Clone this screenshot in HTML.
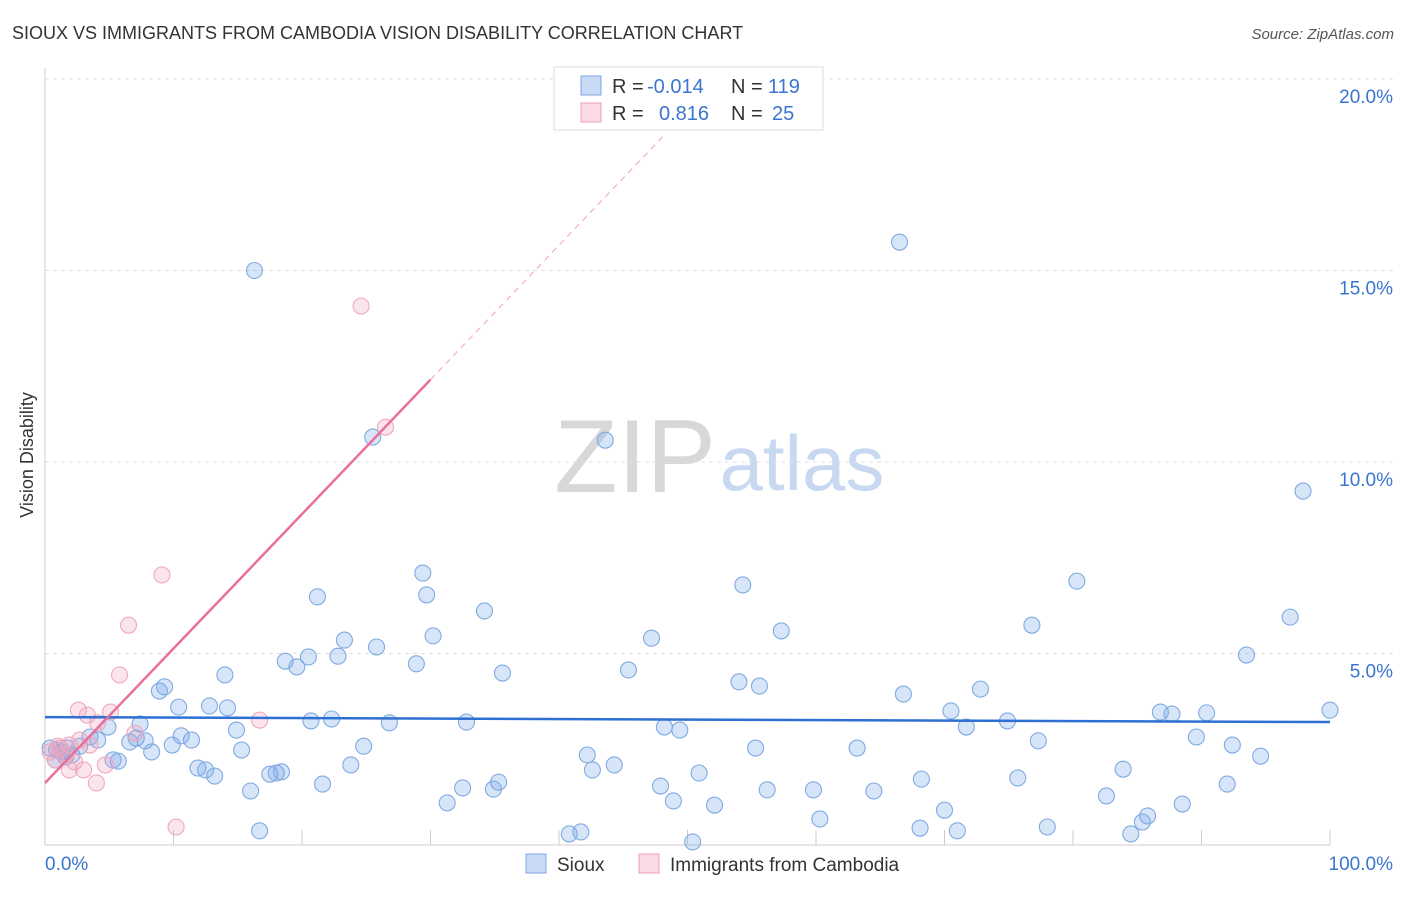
<!DOCTYPE html>
<html><head><meta charset="utf-8"><style>
body{margin:0;background:#fff;font-family:"Liberation Sans",sans-serif;}
svg text{font-family:"Liberation Sans",sans-serif;}
</style></head><body>
<svg id="chart" width="1406" height="892" xmlns="http://www.w3.org/2000/svg">
<text x="12" y="39" font-size="18" fill="#333">SIOUX VS IMMIGRANTS FROM CAMBODIA VISION DISABILITY CORRELATION CHART</text>
<text x="1394" y="39" font-size="15" fill="#555" text-anchor="end" font-style="italic">Source: ZipAtlas.com</text>
<text transform="translate(33,455) rotate(-90)" font-size="18" fill="#333" text-anchor="middle">Vision Disability</text>
<g>
<text x="635" y="492" font-size="104" font-family="Liberation Serif" fill="#d8d8d8" text-anchor="middle">ZIP</text>
<text x="802" y="490" font-size="78" fill="#c8d8f0" text-anchor="middle">atlas</text>
</g>
<g id="grid"></g><g id="marks"></g>
<g>
<rect x="554" y="67" width="269" height="63" fill="#fff" stroke="#ddd"/>
<rect x="581" y="76" width="20" height="19" fill="rgba(100,150,230,0.35)" stroke="#7aa6e0"/>
<rect x="581" y="103" width="20" height="19" fill="rgba(240,150,180,0.35)" stroke="#f0a0b8"/>
<text x="612" y="93" font-size="20" fill="#333">R =</text>
<text x="647" y="93" font-size="20" fill="#3a75d0">-0.014</text>
<text x="731" y="93" font-size="20" fill="#333">N =</text>
<text x="768" y="93" font-size="20" fill="#3a75d0">119</text>
<text x="612" y="120" font-size="20" fill="#333">R =</text>
<text x="659" y="120" font-size="20" fill="#3a75d0">0.816</text>
<text x="731" y="120" font-size="20" fill="#333">N =</text>
<text x="772" y="120" font-size="20" fill="#3a75d0">25</text>
</g>
<g>
<rect x="526" y="854" width="20" height="19" fill="rgba(100,150,230,0.35)" stroke="#7aa6e0"/>
<text x="557" y="871" font-size="19" fill="#333">Sioux</text>
<rect x="639" y="854" width="20" height="19" fill="rgba(240,150,180,0.35)" stroke="#f0a0b8"/>
<text x="670" y="871" font-size="19" fill="#333">Immigrants from Cambodia</text>
</g>
</svg>
<script>
const yTicks=[5,10,15,20];
const yTickLabels=["5.0%","10.0%","15.0%","20.0%"];
const xTicks=[0,10,20,30,40,50,60,70,80,90,100];
const xEndLabels=["0.0%","100.0%"];
const siouxX=[16.3,66.5,25.5,43.6,97.9,29.4,54.3,80.3,21.2,29.7,34.2,96.9,57.3,76.8,30.2,23.3,47.2,25.8,20.5,18.7,19.6,22.8,28.9,93.5,45.4,35.6,14.0,8.9,9.3,54.0,55.6,72.8,66.8,10.4,12.8,14.2,70.5,86.8,87.7,90.4,100,7.4,20.7,22.3,26.8,32.8,74.9,14.9,48.2,49.4,71.7,10.6,11.4,7.1,6.6,4.1,3.5,4.9,7.8,9.9,8.3,15.3,24.8,77.3,89.6,92.4,5.7,5.3,42.2,55.3,63.2,94.6,11.9,12.5,13.2,17.5,18.0,18.4,23.8,42.6,44.3,50.9,68.2,75.7,83.9,92.0,21.6,32.5,35.3,34.9,47.9,16.0,56.2,59.8,64.5,82.6,31.3,48.9,52.1,70.0,88.5,60.3,85.8,85.4,16.7,40.8,41.7,68.1,71.0,78.0,84.5,50.4,0.4,0.9,1.3,1.7,2.1,2.7,0.8,1.6];
const siouxY=[15.0,15.74,10.65,10.57,9.24,7.10,6.79,6.89,6.48,6.53,6.11,5.95,5.59,5.74,5.46,5.35,5.40,5.17,4.91,4.80,4.65,4.93,4.73,4.96,4.57,4.49,4.44,4.02,4.13,4.26,4.15,4.07,3.94,3.60,3.63,3.58,3.50,3.47,3.42,3.45,3.52,3.16,3.24,3.29,3.19,3.21,3.24,3.00,3.08,3.00,3.08,2.85,2.74,2.79,2.69,2.74,2.82,3.08,2.72,2.61,2.43,2.48,2.58,2.72,2.82,2.61,2.19,2.22,2.35,2.53,2.53,2.32,2.01,1.96,1.80,1.85,1.88,1.91,2.09,1.96,2.09,1.88,1.72,1.75,1.98,1.59,1.59,1.49,1.64,1.46,1.54,1.41,1.44,1.44,1.41,1.28,1.10,1.15,1.04,0.91,1.07,0.68,0.76,0.60,0.37,0.29,0.34,0.44,0.37,0.47,0.29,0.08,2.53,2.48,2.43,2.53,2.35,2.58,2.22,2.30];
const cambX=[24.6,26.5,9.1,6.5,5.8,2.6,3.3,5.1,4.1,7.0,16.7,1.9,1.2,0.4,0.8,1.6,2.3,3.0,1.9,4.0,4.7,10.2,1.0,3.5,2.7];
const cambY=[14.07,10.91,7.05,5.74,4.44,3.52,3.39,3.47,3.19,2.92,3.26,2.61,2.53,2.43,2.22,2.35,2.17,1.96,1.96,1.62,2.09,0.47,2.58,2.61,2.74];
const siouxTrend=[3.34,3.21];
const cambTrend=[1.62,0.351];
const X=v=>45+v*12.85, Y=v=>845-v*38.3;
const NS="http://www.w3.org/2000/svg";
function mk(t,a,p){const e=document.createElementNS(NS,t);for(const k in a)e.setAttribute(k,a[k]);p.appendChild(e);return e;}
const grid=document.getElementById('grid'), marks=document.getElementById('marks');
yTicks.forEach((t,i)=>{
 const l=mk('line',{x1:45,x2:1393,y1:Y(t),y2:Y(t),stroke:'#e0e0e0','stroke-dasharray':'4,4'},grid);
 
 
 const tx=mk('text',{x:1393,y:Y(t)+24,'font-size':19,fill:'#3a75d0','text-anchor':'end'},grid);
 tx.textContent=yTickLabels[i];
 
 
});
const ax=mk('line',{x1:45,x2:45,y1:68,y2:845,stroke:'#ccc'},grid);


const bx=mk('line',{x1:45,x2:1330,y1:845,y2:845,stroke:'#ccc'},grid);


xTicks.forEach(t=>{
 const l=mk('line',{x1:X(t),x2:X(t),y1:830,y2:845,stroke:'#ccc'},grid);
 
 
});
[[0,'start',45],[100,'end',1393]].forEach((d,i)=>{
 const tx=mk('text',{x:d[2],y:870,'font-size':19,fill:'#3a75d0','text-anchor':d[1]},grid);
 tx.textContent=xEndLabels[i];
 
 
});
siouxX.forEach((x,i)=>{
 const c=mk('circle',{cx:X(x),cy:Y(siouxY[i]),r:8,fill:'rgba(110,160,235,0.28)',stroke:'#80aae2','stroke-width':1.1},marks);
 
 
});
cambX.forEach((x,i)=>{
 const c=mk('circle',{cx:X(x),cy:Y(cambY[i]),r:8,fill:'rgba(240,160,185,0.28)',stroke:'#f0a8bf','stroke-width':1.1},marks);
 
 
});
const bt=mk('line',{x1:X(0),y1:Y(siouxTrend[0]),x2:X(100),y2:Y(siouxTrend[1]),stroke:'#2d6fd2','stroke-width':2.5},marks);


const pt=mk('line',{x1:X(0),y1:Y(cambTrend[0]),x2:X(30),y2:Y(cambTrend[0]+cambTrend[1]*30),stroke:'#e8709a','stroke-width':2.5},marks);


const pd=mk('line',{x1:X(30),y1:Y(cambTrend[0]+cambTrend[1]*30),x2:X(48.2),y2:Y(cambTrend[0]+cambTrend[1]*48.2),stroke:'#f0b0c4','stroke-width':1.2,'stroke-dasharray':'6,5'},marks);


</script>
</body></html>
